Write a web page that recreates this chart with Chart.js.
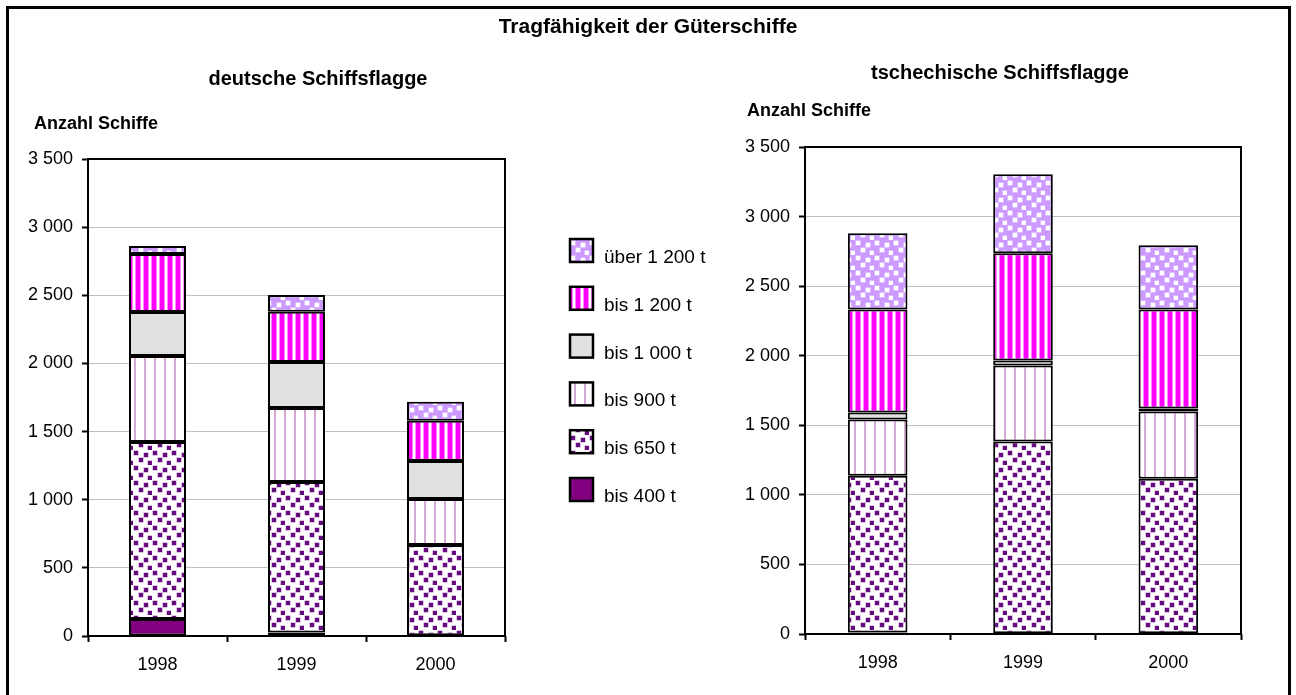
<!DOCTYPE html>
<html>
<head>
<meta charset="utf-8">
<script src="https://cdn.jsdelivr.net/npm/chart.js@4"></script>
<style>
  body { margin: 0; background: #fff; }
  #page { position: relative; width: 1296px; height: 695px; overflow: hidden; }
  #frame { position: absolute; left: 6px; top: 6px; width: 1279px; height: 720px; border: 3px solid #000; }
  canvas { position: absolute; left: 0; top: 0; }
</style>
</head>
<body>
<div id="page">
  <div id="frame"></div>
  <canvas id="chartDe" width="1296" height="695"></canvas>
  <canvas id="chartCz" width="1296" height="695"></canvas>
</div>
<script>
// Jahre
const years = ['1998', '1999', '2000'];
const yTicks = [0, 500, 1000, 1500, 2000, 2500, 3000, 3500];

// Tragfähigkeitsklassen (von unten nach oben gestapelt)
const classes = ['bis 400 t', 'bis 650 t', 'bis 900 t', 'bis 1 000 t', 'bis 1 200 t', 'über 1 200 t'];

// deutsche Schiffsflagge
const deBis400 = [125, 25, 5];
const deBis650 = [1298, 1105, 663];
const deBis900 = [632, 543, 337];
const deBis1000 = [322, 338, 279];
const deBis1200 = [426, 369, 296];
const deUeber1200 = [59, 122, 139];

// tschechische Schiffsflagge
const czBis400 = [10, 5, 5];
const czBis650 = [1128, 1378, 1111];
const czBis900 = [403, 547, 483];
const czBis1000 = [50, 36, 21];
const czBis1200 = [742, 770, 713];
const czUeber1200 = [548, 569, 461];

Chart.defaults.font.family = '"Liberation Sans", Arial, sans-serif';
Chart.defaults.font.size = 18;
Chart.defaults.color = '#000';

// Muster fuer die Balken
function makePattern(w, h, draw) {
    var c = document.createElement('canvas');
    c.width = w;
    c.height = h;
    var g = c.getContext('2d');
    draw(g);
    return g.createPattern(c, 'repeat');
}

// Streumuster: kleine Quadrate, leicht versetzt
var spots = [[1, 1], [11, 3], [6, 8], [15, 11]];

var fills = [
    '#800080',
    makePattern(19, 15, function(g) {
        g.fillStyle = '#fff';
        g.fillRect(0, 0, 19, 15);
        spots.forEach(function(p) {
            g.fillStyle = '#b788c4';
            g.fillRect(p[0] - 0.5, p[1] - 0.5, 5, 5);
            g.fillStyle = '#660a80';
            g.fillRect(p[0], p[1], 4, 4);
        });
    }),
    makePattern(10, 1, function(g) {
        g.fillStyle = '#fff';
        g.fillRect(0, 0, 10, 1);
        g.fillStyle = '#d6a8d6';
        g.fillRect(4, 0, 2, 1);
    }),
    '#e0e0e0',
    makePattern(8, 1, function(g) {
        g.fillStyle = '#fff';
        g.fillRect(0, 0, 8, 1);
        g.fillStyle = '#ff00ff';
        g.fillRect(0, 0, 4, 1);
        g.fillStyle = '#ff88ff';
        g.fillRect(4, 0, 1, 1);
        g.fillRect(7, 0, 1, 1);
    }),
    makePattern(19, 15, function(g) {
        g.fillStyle = '#cc99ff';
        g.fillRect(0, 0, 19, 15);
        spots.forEach(function(p) {
            g.fillStyle = '#eeddff';
            g.fillRect(p[0] - 0.5, p[1] - 0.5, 5, 5);
            g.fillStyle = '#fff';
            g.fillRect(p[0], p[1], 4, 4);
        });
    })
];

function buildDatasets(series) {
    return series.map(function(values, i) {
        return {
            label: classes[i],
            data: values,
            backgroundColor: fills[i],
            borderColor: '#000',
            borderWidth: 2,
            borderSkipped: false,
            categoryPercentage: 1,
            barPercentage: 0.41
        };
    });
}

function formatTick(v) {
    return String(v).replace(/\B(?=(\d{3})+(?!\d))/g, ' ');
}

// Rahmen um die Zeichenflaeche und Beschriftungen
var framePlugin = {
    id: 'framePlugin',
    afterDatasetsDraw: function(chart) {
        var a = chart.chartArea;
        var ctx = chart.ctx;
        ctx.save();
        ctx.strokeStyle = '#000';
        ctx.lineWidth = 2;
        ctx.strokeRect(a.left, a.top, a.right - a.left, a.bottom - a.top);
        ctx.restore();
    },
    afterDraw: function(chart, args, opts) {
        var ctx = chart.ctx;
        ctx.save();
        ctx.fillStyle = '#000';
        (opts.texts || []).forEach(function(t) {
            ctx.font = t.font;
            ctx.textAlign = t.align;
            ctx.textBaseline = 'alphabetic';
            ctx.fillText(t.text, t.x, t.y);
        });
        if (opts.legend) {
            var lg = opts.legend;
            var ds = chart.data.datasets;
            ctx.font = '19px "Liberation Sans", Arial, sans-serif';
            ctx.textAlign = 'left';
            for (var k = 0; k < ds.length; k++) {
                var d = ds[ds.length - 1 - k];
                var top = lg.y + k * lg.step;
                ctx.fillStyle = d.backgroundColor;
                ctx.fillRect(lg.x, top, lg.size, lg.size);
                ctx.strokeStyle = '#000';
                ctx.lineWidth = 2.5;
                ctx.strokeRect(lg.x, top, lg.size, lg.size);
                ctx.fillStyle = '#000';
                ctx.fillText(d.label, lg.x + 34, top + lg.size + 1);
            }
        }
        ctx.restore();
    }
};

function makeOptions(padding, texts, legend) {
    return {
        responsive: false,
        animation: false,
        devicePixelRatio: 1,
        layout: { padding: padding },
        plugins: {
            legend: { display: false },
            tooltip: { enabled: false },
            framePlugin: { texts: texts, legend: legend }
        },
        scales: {
            x: {
                stacked: true,
                afterFit: function(s) { s.height = 40; },
                border: { display: false },
                grid: { drawOnChartArea: false, offset: true, tickLength: 6, tickColor: '#000', tickWidth: 2 },
                ticks: { padding: 12, font: { size: 18 } }
            },
            y: {
                stacked: true,
                min: 0,
                max: 3500,
                afterFit: function(s) { s.width = 80; },
                afterBuildTicks: function(s) {
                    s.ticks = yTicks.map(function(v) { return { value: v }; });
                },
                border: { display: false },
                grid: { color: '#c0c0c0', lineWidth: 1, tickLength: 6, tickColor: '#000', tickWidth: 2 },
                ticks: { padding: 9, font: { size: 18 }, callback: formatTick }
            }
        }
    };
}

var bold21 = 'bold 21px "Liberation Sans", Arial, sans-serif';
var bold20 = 'bold 20px "Liberation Sans", Arial, sans-serif';
var bold18 = 'bold 18px "Liberation Sans", Arial, sans-serif';

new Chart(document.getElementById('chartDe'), {
    type: 'bar',
    data: {
        labels: years,
        datasets: buildDatasets([deBis400, deBis650, deBis900, deBis1000, deBis1200, deUeber1200])
    },
    options: makeOptions(
        { left: 8, top: 159, right: 791, bottom: 19 },
        [
            { text: 'Tragfähigkeit der Güterschiffe', x: 648, y: 33, font: bold21, align: 'center' },
            { text: 'deutsche Schiffsflagge', x: 318, y: 85, font: bold20, align: 'center' },
            { text: 'Anzahl Schiffe', x: 34, y: 129, font: bold18, align: 'left' }
        ],
        { x: 570, y: 239, step: 47.8, size: 23 }
    ),
    plugins: [framePlugin]
});

new Chart(document.getElementById('chartCz'), {
    type: 'bar',
    data: {
        labels: years,
        datasets: buildDatasets([czBis400, czBis650, czBis900, czBis1000, czBis1200, czUeber1200])
    },
    options: makeOptions(
        { left: 725, top: 147, right: 55, bottom: 21 },
        [
            { text: 'tschechische Schiffsflagge', x: 1000, y: 79, font: bold20, align: 'center' },
            { text: 'Anzahl Schiffe', x: 747, y: 116, font: bold18, align: 'left' }
        ],
        null
    ),
    plugins: [framePlugin]
});
</script>
</body>
</html>
